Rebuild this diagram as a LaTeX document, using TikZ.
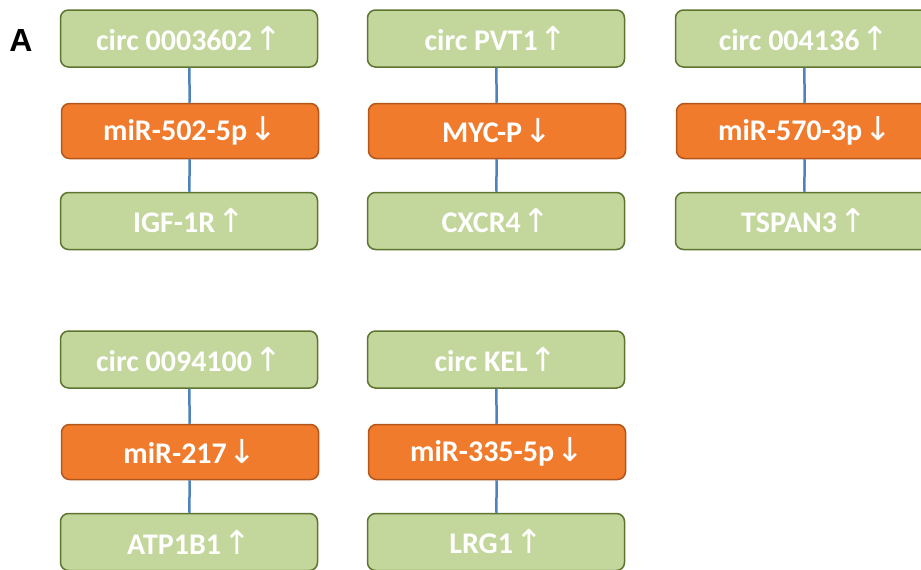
\documentclass[tikz,border=0pt]{standalone}
\usepackage{fontspec}
\setmainfont{Carlito}
\newfontfamily\arrowfont{DejaVu Sans}
\newfontfamily\panelfont{Liberation Sans}
\usepackage{xcolor}
\definecolor{circgreen}{HTML}{C3D69B}
\definecolor{circedge}{HTML}{5E7530}
\definecolor{mirorange}{HTML}{F07B2D}
\definecolor{miredge}{HTML}{B3561A}
\definecolor{linkblue}{HTML}{4F81BD}
\newcommand{\upar}{\kern2pt{\arrowfont\mdseries\fontsize{33}{36}\selectfont\char"2191}}
\newcommand{\dnar}{\kern2pt{\arrowfont\mdseries\fontsize{33}{36}\selectfont\char"2193}}

\tikzset{
    greenbox/.style={draw=circedge, fill=circgreen, line width=1.5pt,
        rounded corners=8pt, minimum width=257pt, minimum height=57pt,
        text=white, font=\fontsize{30}{34}\selectfont\bfseries},
    orangebox/.style={greenbox, draw=miredge, fill=mirorange, minimum height=55pt},
    link/.style={draw=linkblue, line width=2.5pt}
}

\begin{document}
\begin{tikzpicture}[x=1pt, y=-1pt]
    \useasboundingbox (0,0) rectangle (921,570);

    % Panel letter
    \node (panel) at (21,40) {\panelfont\fontsize{32}{34}\selectfont\bfseries A};

    \foreach \x/\y/\n/\circ/\mir/\gene in {189/0/1/circ 0003602/miR-502-5p/IGF-1R,
            496/0/2/circ PVT1/MYC-P/CXCR4, 804/0/3/circ 004136/miR-570-3p/TSPAN3,
            189/321/4/circ 0094100/miR-217/ATP1B1, 496/321/5/circ KEL/miR-335-5p/LRG1} {
        % circRNA on top
        \node[greenbox] (circ\n) at (\x,38.5+\y) {\circ\upar};
        % sponged miRNA in the middle
        \node[orangebox] (mir\n) at (\x+1,131+\y) {\mir\dnar};
        % target gene below
        \node[greenbox] (gene\n) at (\x,221+\y) {\gene\upar};
        % links
        \draw[link] (circ\n) -- (mir\n);
        \draw[link] (mir\n) -- (gene\n);
    }

\end{tikzpicture}
\end{document}
